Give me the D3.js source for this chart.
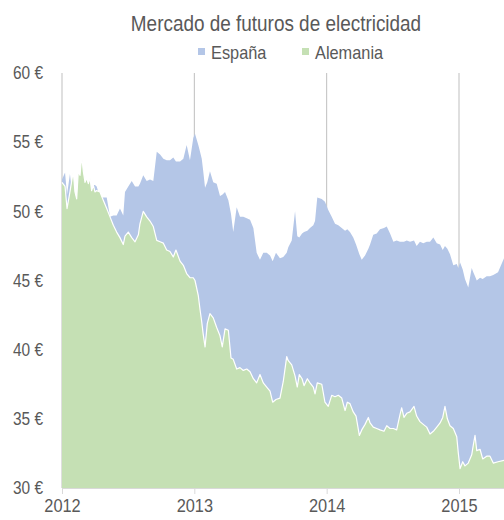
<!DOCTYPE html>
<html><head><meta charset="utf-8">
<script src="https://cdn.jsdelivr.net/npm/d3@7"></script>
<style>body{margin:0;background:#fff;overflow:hidden}</style>
</head><body>
<svg id="chart" width="504" height="520"></svg>
<script>
// Time in decimal years
const years = [
2012.000,2012.023,2012.038,2012.060,2012.085,2012.098,2012.111,2012.123,2012.136,2012.149,
2012.161,2012.174,2012.187,2012.199,2012.212,2012.224,2012.237,2012.249,2012.262,2012.287,
2012.312,2012.338,2012.363,2012.388,2012.413,2012.438,2012.463,2012.476,2012.501,2012.527,
2012.552,2012.577,2012.589,2012.614,2012.640,2012.665,2012.690,2012.716,2012.741,2012.766,
2012.791,2012.816,2012.841,2012.861,2012.892,2012.917,2012.942,2012.967,2012.992,2013.005,
2013.030,2013.043,2013.056,2013.066,2013.081,2013.098,2013.118,2013.143,2013.169,2013.194,
2013.211,2013.232,2013.257,2013.277,2013.294,2013.320,2013.345,2013.370,2013.396,2013.421,
2013.446,2013.471,2013.496,2013.521,2013.547,2013.572,2013.592,2013.617,2013.647,2013.672,
2013.698,2013.710,2013.736,2013.761,2013.778,2013.793,2013.814,2013.829,2013.854,2013.874,
2013.899,2013.912,2013.929,2013.963,2013.987,2014.012,2014.038,2014.063,2014.088,2014.114,
2014.139,2014.156,2014.176,2014.201,2014.222,2014.247,2014.265,2014.290,2014.315,2014.328,
2014.352,2014.378,2014.403,2014.433,2014.454,2014.479,2014.504,2014.529,2014.554,2014.567,
2014.584,2014.605,2014.630,2014.660,2014.680,2014.705,2014.730,2014.756,2014.781,2014.806,
2014.832,2014.857,2014.877,2014.894,2014.912,2014.932,2014.957,2014.983,2014.995,2015.008,
2015.028,2015.045,2015.070,2015.096,2015.108,2015.121,2015.134,2015.159,2015.179,2015.209,
2015.234,2015.259,2015.295,2015.340
];
const espana = [
52.3,52.8,51.2,52.7,50.6,50.6,50.6,50.6,50.7,50.8,
50.9,51.0,51.0,51.0,51.1,51.2,51.9,51.9,51.8,51.0,
51.0,51.0,49.6,49.7,49.7,50.2,49.7,51.4,51.8,52.2,
51.8,51.8,52.0,52.6,52.2,52.3,52.2,54.3,54.1,53.8,
53.7,53.7,53.9,53.6,53.6,53.8,54.8,53.7,55.3,55.6,
54.8,54.3,53.8,53.0,51.7,52.1,52.9,52.1,52.0,51.1,
51.2,51.4,50.8,49.8,48.5,50.3,49.6,49.6,49.5,49.4,
48.8,47.0,46.5,47.0,47.0,46.8,46.4,47.0,46.6,46.7,
47.0,47.4,47.9,50.0,48.2,48.1,48.4,48.5,48.6,48.8,
49.0,49.3,51.0,50.9,50.7,50.1,49.6,49.1,49.0,48.8,
48.6,48.7,48.5,48.1,47.6,46.9,46.5,46.8,47.3,47.6,
48.3,48.4,48.7,48.8,48.9,48.4,47.8,47.9,47.8,47.8,
47.8,47.9,47.8,47.9,47.5,47.8,47.7,47.8,47.8,48.1,
47.7,47.6,47.2,47.5,47.3,46.9,46.1,46.2,45.9,46.3,
45.8,45.1,44.5,45.9,45.6,45.3,45.0,45.2,45.1,45.3,
45.3,45.4,45.6,46.6
];
const alemania = [
52.1,51.8,50.2,51.4,52.9,51.4,50.9,52.9,52.6,54.0,
52.9,52.1,52.4,52.0,52.4,51.5,51.9,51.4,51.5,51.4,
50.8,50.2,49.6,49.0,48.5,48.1,47.6,48.2,48.5,48.1,
47.8,48.3,49.1,50.0,49.6,49.3,48.9,47.9,47.8,47.7,
47.2,47.1,46.7,47.2,46.4,46.1,45.5,45.2,45.2,45.0,
43.9,42.9,42.0,41.2,40.2,41.9,42.6,42.3,41.6,41.0,
40.2,41.5,41.4,39.4,39.3,38.6,38.7,38.5,38.6,38.4,
37.9,37.6,38.2,37.6,37.3,37.0,36.2,36.4,36.5,37.7,
39.5,39.2,38.9,38.1,37.3,38.2,37.9,37.4,37.9,37.6,
37.3,36.8,37.6,37.5,36.2,35.9,36.7,36.6,36.7,36.5,
35.6,36.2,36.1,35.5,35.2,33.8,34.2,34.6,35.1,34.7,
34.4,34.3,34.2,34.1,34.5,34.3,34.3,34.2,35.3,35.8,
35.1,35.4,35.5,35.9,35.2,34.8,34.6,34.4,33.9,34.1,
34.4,34.7,35.1,35.9,35.0,34.5,34.3,33.7,32.5,31.4,
31.9,31.6,31.8,32.4,33.1,33.8,32.7,32.8,32.1,32.3,
32.3,31.8,31.9,32.0
];
const seriesNames = ["España", "Alemania"];
const seriesColors = ["#b4c6e7", "#c5e0b4"];
const yTicks = [30, 35, 40, 45, 50, 55, 60];
const xTicks = [2012, 2013, 2014, 2015];
const title = "Mercado de futuros de electricidad";

const FONT = '"Liberation Sans",Arial,sans-serif';
const textColor = "#595959";
const NARROW = 0.86; // emulate a condensed face

function condense(sel) {
  sel.each(function () {
    const w = this.getComputedTextLength();
    d3.select(this).attr("textLength", (w * NARROW).toFixed(1)).attr("lengthAdjust", "spacingAndGlyphs");
  });
}

const svg = d3.select("#chart");
const x = d3.scaleLinear().domain([2012, years[years.length - 1]]).range([62, 504]);
const y = d3.scaleLinear().domain([30, 60]).range([488, 73]);

const rows = years.map((t, i) => ({t, es: espana[i], de: alemania[i]}));

// vertical year gridlines (behind areas)
svg.append("g").selectAll("line").data(xTicks).join("line")
  .attr("x1", d => x(d)).attr("x2", d => x(d))
  .attr("y1", y(60)).attr("y2", y(30))
  .attr("stroke", "#bfbfbf").attr("stroke-width", 1);

const areaEs = d3.area().x(d => x(d.t)).y0(y(30)).y1(d => y(d.es));
const areaDe = d3.area().x(d => x(d.t)).y0(y(30)).y1(d => y(d.de));
const lineDe = d3.line().x(d => x(d.t)).y(d => y(d.de));

svg.append("path").datum(rows).attr("d", areaEs).attr("fill", seriesColors[0]);
svg.append("path").datum(rows).attr("d", areaDe).attr("fill", seriesColors[1]);
svg.append("path").datum(rows).attr("d", lineDe).attr("fill", "none")
  .attr("stroke", "#ffffff").attr("stroke-width", 1.2).attr("stroke-linejoin", "round");

// bottom axis
const xAxis = d3.axisBottom(x).tickValues(xTicks).tickFormat(d3.format("d")).tickSize(6).tickPadding(5);
const gx = svg.append("g").attr("transform", `translate(0,${y(30)})`).call(xAxis);
gx.select(".domain").attr("stroke", "#d9d9d9").attr("d", `M${x(2012)},0.5H504`);
gx.selectAll(".tick line").attr("stroke", "#d9d9d9");
gx.selectAll("text").attr("fill", textColor).style("font-family", FONT).style("font-size", "19px").call(condense);

// left axis labels
const yAxis = d3.axisLeft(y).tickValues(yTicks).tickFormat(d => d + " €").tickSize(0).tickPadding(19);
const gy = svg.append("g").attr("transform", `translate(${x(2012)},0)`).call(yAxis);
gy.select(".domain").remove();
gy.selectAll("text").attr("fill", textColor).style("font-family", FONT).style("font-size", "18px").call(condense);

// title
svg.append("text").attr("x", 276).attr("y", 31).attr("text-anchor", "middle")
  .attr("fill", textColor).style("font-family", FONT).style("font-size", "22px").text(title).call(condense);

// legend
const legendX = [198, 302];
const lg = svg.append("g").selectAll("g").data(seriesNames).join("g")
  .attr("transform", (d, i) => `translate(${legendX[i]},0)`);
lg.append("rect").attr("x", 0).attr("y", 48).attr("width", 7).attr("height", 7)
  .attr("fill", (d, i) => seriesColors[i]);
lg.append("text").attr("x", 13).attr("y", 58.5).attr("fill", textColor)
  .style("font-family", FONT).style("font-size", "19px").text(d => d).call(condense);
</script>
</body></html>
